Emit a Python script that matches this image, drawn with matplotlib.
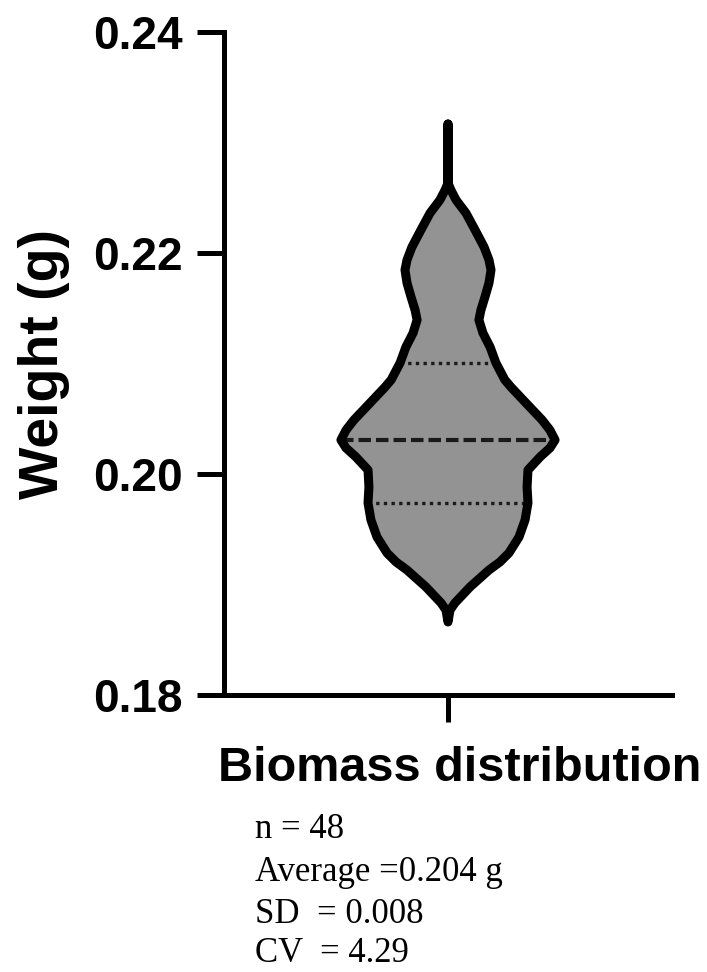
import numpy as np
import matplotlib
matplotlib.use("Agg")
import matplotlib.pyplot as plt
import matplotlib.transforms as mtransforms

# violin outline: weight (g) and half-width (axis units)
profile_y = [0.23167, 0.22633, 0.22570, 0.22480, 0.22362, 0.22208, 0.22054,
             0.21937, 0.21846, 0.21729, 0.21602, 0.21484, 0.21394, 0.21276,
             0.21149, 0.21005, 0.20851, 0.20787, 0.20643, 0.20489, 0.20398,
             0.20308, 0.20235, 0.20154, 0.20036, 0.19882, 0.19738, 0.19584,
             0.19430, 0.19285, 0.19204, 0.19131, 0.18977, 0.18833, 0.18769,
             0.18661]
profile_w = [0.0, 0.0, 0.013, 0.036, 0.080, 0.121, 0.161,
             0.183, 0.192, 0.183, 0.165, 0.147, 0.138, 0.156,
             0.188, 0.214, 0.254, 0.281, 0.348, 0.420, 0.455,
             0.478, 0.455, 0.411, 0.357, 0.353, 0.357, 0.344,
             0.317, 0.272, 0.232, 0.183, 0.098, 0.031, 0.009,
             0.0]

median = 0.20308
quartiles = [0.19738, 0.21005]

category = ["Biomass distribution"]
yticks = [0.18, 0.20, 0.22, 0.24]
ytick_labels = ["0.18", "0.20", "0.22", "0.24"]
stats_lines = ["n = 48", "Average =0.204 g", "SD  = 0.008", "CV  = 4.29"]

sans = "Liberation Sans"
serif = "Liberation Serif"

fig = plt.figure(figsize=(7.07, 9.72), dpi=100)
ax = fig.add_axes([224 / 707, 1 - 695 / 972, (672 - 224) / 707, (695 - 32) / 972])

y = np.array(profile_y)
w = np.array(profile_w)
xs = np.concatenate([-w, w[::-1]])
ys = np.concatenate([y, y[::-1]])
ax.fill(xs, ys, facecolor="#939393", edgecolor="none", zorder=2)

# median and quartile lines, inside the violin
order = np.argsort(y)
half = np.interp(median, y[order], w[order])
ax.plot([-half, half], [median, median], color="#1a1a1a", lw=3.0,
        linestyle=(0, (3.0, 1.2)), zorder=3)
for q in quartiles:
    hq = np.interp(q, y[order], w[order])
    ax.plot([-hq, hq], [q, q], color="#1a1a1a", lw=2.4,
            linestyle=(0, (1, 1.3)), zorder=3)

ax.fill(xs, ys, facecolor="none", edgecolor="black", lw=6.5,
        joinstyle="round", zorder=4)

ax.set_xlim(-1, 1)
ax.set_ylim(0.18, 0.24)
ax.set_xticks([0])
ax.set_xticklabels(category, fontsize=35, fontweight="bold", family=sans)
ax.set_yticks(yticks)
ax.set_yticklabels(ytick_labels, fontsize=33, fontweight="bold", family=sans)
ax.tick_params(axis="both", width=3.6, length=19.5, color="black")
ax.tick_params(axis="y", pad=10)
ax.tick_params(axis="x", pad=17)
offset = mtransforms.ScaledTranslation(12 / 100, 0, fig.dpi_scale_trans)
for lbl in ax.get_xticklabels():
    lbl.set_transform(lbl.get_transform() + offset)

ax.set_ylabel("Weight (g)", fontsize=40, fontweight="bold", family=sans, labelpad=17)

for side in ["top", "right"]:
    ax.spines[side].set_visible(False)
for side in ["left", "bottom"]:
    ax.spines[side].set_linewidth(3.6)
    ax.spines[side].set_capstyle("projecting")

baselines = [838, 881, 923, 962]
for txt, b in zip(stats_lines, baselines):
    fig.text(255 / 707, 1 - b / 972, txt, fontsize=25, family=serif,
             ha="left", va="baseline")

fig.savefig("out.png", dpi=100, facecolor="white")
